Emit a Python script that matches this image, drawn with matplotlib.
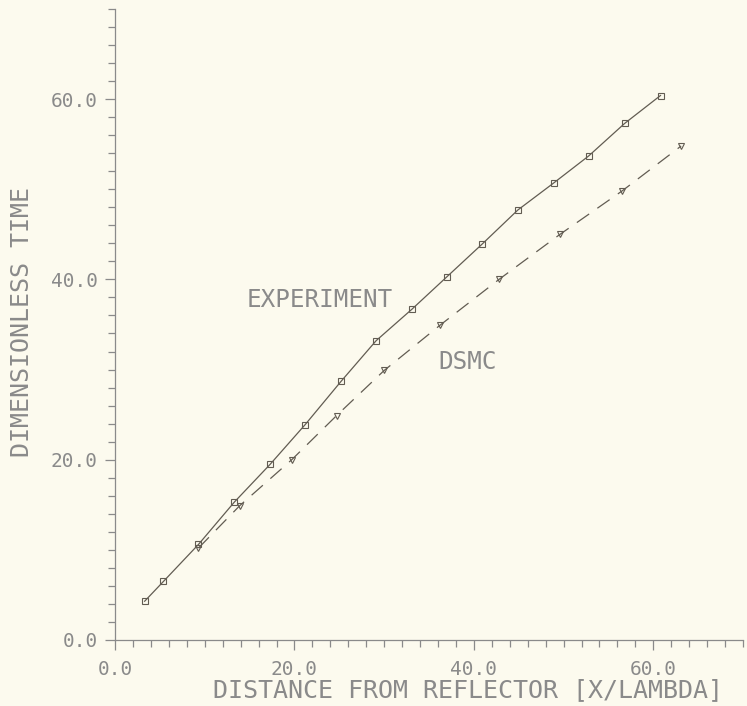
import numpy as np
import matplotlib
matplotlib.use('Agg')
from matplotlib import pylab as plt
from matplotlib.ticker import MultipleLocator, FormatStrFormatter

# values
exp_x  = [3.3, 5.4, 9.3, 13.3, 17.3, 21.2, 25.2, 29.1, 33.1, 37.0, 40.9, 44.9, 48.9, 52.8, 56.8, 60.8]
exp_y  = [4.3, 6.5, 10.6, 15.3, 19.5, 23.9, 28.7, 33.2, 36.7, 40.3, 43.9, 47.7, 50.7, 53.7, 57.3, 60.4]
dsmc_x = [9.3, 13.9, 19.7, 24.7, 30.0, 36.2, 42.8, 49.6, 56.5, 63.1]
dsmc_y = [10.2, 14.9, 20.0, 24.9, 29.9, 34.9, 40.0, 45.0, 49.8, 54.8]

bg    = '#fcfaee'
ink   = '#625c52'
txt   = '#8a8a8a'
axcol = '#8a8a8a'
font  = 'DejaVu Sans Mono'

fig = plt.figure(figsize=(7.47, 7.06), dpi=100, facecolor=bg)
ax = fig.add_axes([0.154, 0.0935, 0.8407, 0.8938], facecolor=bg)

ax.plot(exp_x, exp_y, '-', color=ink, lw=0.9, marker='s', ms=5,
        mfc='none', mec=ink, mew=0.8)
ax.plot(dsmc_x, dsmc_y, color=ink, lw=0.9, linestyle=(0, (12, 8)),
        marker='v', ms=4, mfc='none', mec=ink, mew=0.8)

ax.text(22.85, 37.7, 'EXPERIMENT', family=font, fontsize=17.5, color=txt,
        ha='center', va='center')
ax.text(39.35, 30.8, 'DSMC', family=font, fontsize=17.5, color=txt,
        ha='center', va='center')

ax.set_xlim(0, 70)
ax.set_ylim(0, 70)
for s in ['top', 'right']:
    ax.spines[s].set_visible(False)
for s in ['left', 'bottom']:
    ax.spines[s].set_color(axcol)
    ax.spines[s].set_linewidth(0.9)

ax.xaxis.set_major_locator(MultipleLocator(20))
ax.yaxis.set_major_locator(MultipleLocator(20))
ax.xaxis.set_minor_locator(MultipleLocator(2))
ax.yaxis.set_minor_locator(MultipleLocator(2))
ax.xaxis.set_major_formatter(FormatStrFormatter('%.1f'))
ax.yaxis.set_major_formatter(FormatStrFormatter('%.1f'))
ax.tick_params(which='major', length=7.5, width=0.9, color=axcol,
               labelcolor=txt, labelsize=14)
ax.tick_params(which='minor', length=4.8, width=0.9, color=axcol)
ax.tick_params(axis='x', which='major', pad=7)
ax.tick_params(axis='y', which='major', pad=5)
for lab in ax.get_xticklabels() + ax.get_yticklabels():
    lab.set_family(font)

fig.text(468/747, 1 - 690/706, 'DISTANCE FROM REFLECTOR [X/LAMBDA]',
         family=font, fontsize=18, color=txt, ha='center', va='center')
fig.text(22/747, 1 - 322/706, 'DIMENSIONLESS TIME', family=font,
         fontsize=18, color=txt, ha='center', va='center', rotation=90)

plt.savefig('out.png', dpi=100, facecolor=bg)
plt.close()
